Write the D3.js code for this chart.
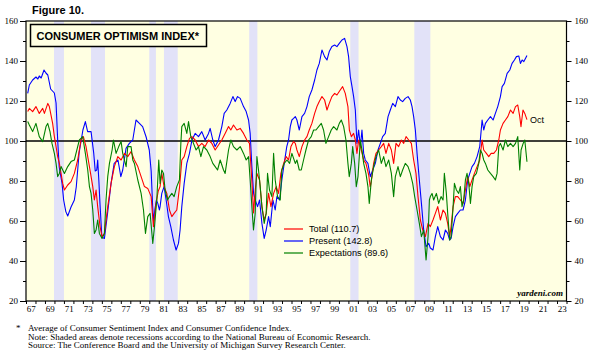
<!DOCTYPE html>
<html><head><meta charset="utf-8">
<script src="https://cdn.jsdelivr.net/npm/d3@7/dist/d3.min.js"></script>
<style>
html,body{margin:0;padding:0;background:#fff;}
svg{display:block;}
</style></head>
<body><svg id="c" width="598" height="356"></svg>
<script>
// ---------- DATA (decimal year, index value) ----------
const presentData = [
[1967.18,123.8],[1967.35,128],[1967.7,130.5],[1968.05,132],[1968.25,131],[1968.4,132.5],[1968.6,131.5],[1968.9,135.5],[1969.1,134],[1969.3,133],[1969.6,126],[1969.99,124],[1970.17,119],[1970.34,100.5],[1970.5,87],[1970.8,78.8],[1970.97,70.5],[1971.2,64.7],[1971.4,62.5],[1971.75,67],[1972.1,70.5],[1972.3,77],[1972.6,94],[1973.0,105.5],[1973.26,109.7],[1973.5,104.7],[1973.86,104.7],[1974.14,94],[1974.3,85],[1974.46,85.5],[1974.56,90.5],[1974.68,80.5],[1974.8,68.8],[1975.0,52],[1975.27,51.3],[1975.6,63.8],[1975.97,78.8],[1976.3,88.8],[1976.7,90.5],[1977.0,82.2],[1977.2,85.5],[1977.55,96.3],[1977.9,98.8],[1978.26,100.5],[1978.6,110.5],[1978.96,108.8],[1979.3,107.2],[1979.67,102],[1980.0,95.5],[1980.2,85],[1980.35,68],[1980.45,60],[1980.6,66],[1980.75,70.5],[1980.9,68.8],[1981.07,65.5],
[1981.14,67.2],[1981.32,73.8],[1981.56,77.2],[1981.78,70.5],[1982.02,62.2],[1982.27,57.2],[1982.55,50.5],[1982.83,45.5],[1983.08,48.8],[1983.25,55.5],[1983.43,67.2],[1983.68,78.8],[1983.96,88.8],[1984.24,93.8],[1984.5,100.5],[1984.84,103.8],[1985.19,102.2],[1985.54,104.7],[1985.89,100.5],[1986.25,103.8],[1986.42,106.3],[1986.7,100.5],[1986.95,97.2],[1987.3,100.5],[1987.65,107.2],[1987.9,113.8],[1988.18,115.5],[1988.53,118.8],[1988.82,122.2],[1989.06,119.7],[1989.31,122.2],[1989.59,121.3],[1989.94,117.2],[1990.22,114.7],[1990.47,110.5],[1990.64,103.8],[1990.82,87.2],[1991.0,73.8],[1991.17,70.5],[1991.42,67.2],[1991.63,70.5],[1991.88,58.8],[1992.12,51.3],[1992.33,55.5],[1992.58,62.2],[1992.76,57.2],[1993.04,70.5],[1993.28,65.5],[1993.46,72.2],[1993.74,70.5],[1993.98,80.5],[1994.23,88.8],[1994.5,97.2],[1994.69,100.5],[1994.87,107.2],[1995.04,110.5],[1995.22,111.3],
[1995.4,112.2],[1995.57,110.5],[1995.82,105.5],[1996.1,112.2],[1996.38,113.8],[1996.63,117.2],[1996.87,122.2],[1997.15,125.5],[1997.44,130.5],[1997.68,135.5],[1997.93,138.8],[1998.21,145.5],[1998.49,142.2],[1998.74,140.5],[1998.98,144.7],[1999.26,147.2],[1999.55,148],[1999.79,147.2],[2000.04,148.8],[2000.32,150.5],[2000.6,151.3],[2000.85,147.2],[2001.02,142.2],[2001.2,132.2],[2001.38,127.2],[2001.55,122.2],[2001.73,115.5],[2001.9,98.8],[2002.08,105.5],[2002.26,97.2],[2002.43,105.5],[2002.61,93.8],[2002.78,90.5],[2003.06,88.8],[2003.31,82.2],[2003.56,85.5],[2003.84,88.8],[2004.12,95.5],[2004.37,98.8],[2004.61,102.2],[2004.89,103.8],[2005.18,112.2],[2005.42,115.5],[2005.67,118.8],[2005.95,117.2],[2006.23,122.2],[2006.48,120.5],[2006.72,119.7],[2007.0,121.3],[2007.29,122.2],[2007.53,120.5],[2007.71,117.2],[2007.88,112.2],[2008.06,105.5],[2008.24,93.8],[2008.48,80.5],[2008.7,68.8],[2008.94,55.5],[2009.19,47.2],[2009.47,48.8],
[2009.64,46.5],[2009.92,45.5],[2010.17,52.2],[2010.42,57.2],[2010.7,52.2],[2010.98,50.5],[2011.23,55.5],[2011.47,53.8],[2011.68,50.5],[2011.83,51.3],[2012.04,57.2],[2012.28,62.2],[2012.53,63.8],[2012.81,65.5],[2013.09,65.5],[2013.34,70.5],[2013.58,80.5],[2013.8,83.8],[2014.04,87.2],[2014.29,88.8],[2014.57,92.2],[2014.85,97.2],[2015.1,110.5],[2015.27,105.5],[2015.45,108.8],[2015.7,110.5],[2015.98,112.2],[2016.26,110.5],[2016.5,113.8],[2016.75,117.2],[2017.03,122.2],[2017.21,127.2],[2017.45,128.8],[2017.74,133.8],[2018.02,135.5],[2018.26,138.8],[2018.51,140.5],[2018.72,142.2],[2018.97,142.5],[2019.14,138.8],[2019.32,140.5],[2019.5,139.7],[2019.67,141.3],[2019.83,142.8]
];
const totalData = [
[1967.18,114.7],[1967.35,116.3],[1967.7,114.7],[1968.05,117.2],[1968.4,113.8],[1968.76,116.3],[1968.94,113.8],[1969.3,118.8],[1969.46,117.2],[1969.81,108.8],[1969.99,102.2],[1970.17,97.2],[1970.34,92.2],[1970.52,88.8],[1970.87,78.8],[1971.05,75.5],[1971.4,78],[1971.75,79.7],[1972.1,83.8],[1972.45,90.5],[1972.8,100.5],[1973.05,102.2],[1973.33,97.2],[1973.69,87.2],[1974.04,77.2],[1974.21,70.5],[1974.39,75.5],[1974.56,67.2],[1974.81,57.2],[1975.02,52.2],[1975.27,53.8],[1975.62,67.2],[1975.97,78.8],[1976.32,87.2],[1976.68,92.2],[1977.03,90.5],[1977.38,93.8],[1977.73,92.2],[1978.08,94.7],[1978.43,90.5],[1978.79,87.2],[1979.14,82.2],[1979.49,77.2],[1979.84,76.3],[1980.2,72.2],[1980.44,57.2],[1980.72,68.8],[1980.95,75],
[1981.14,77.2],[1981.32,83.8],[1981.56,77.2],[1981.85,73.8],[1982.13,65.5],[1982.38,62.2],[1982.62,63.8],[1982.9,65.5],[1983.2,77.2],[1983.43,90.5],[1983.68,92.2],[1983.96,97.2],[1984.24,101.3],[1984.49,102.2],[1984.84,100.5],[1985.19,97.2],[1985.54,98.8],[1985.89,97.2],[1986.25,100.5],[1986.6,98.8],[1986.95,95.5],[1987.3,98],[1987.65,100.5],[1988.0,103.8],[1988.36,107.2],[1988.6,105.5],[1988.88,108],[1989.24,105.5],[1989.59,106.3],[1989.94,103.8],[1990.29,100.5],[1990.57,98.8],[1990.82,80],[1991.0,64],[1991.17,75],[1991.35,83.8],[1991.63,80.5],[1991.88,67.2],[1992.12,60.5],[1992.33,63.8],[1992.58,73.8],[1992.83,67.2],[1993.11,73.8],[1993.39,77.2],[1993.63,73.8],[1993.88,83.8],[1994.17,88.8],[1994.44,92.2],[1994.69,90.5],[1994.94,97.2],[1995.22,99.7],
[1995.4,98.8],[1995.57,95.5],[1995.82,92.2],[1996.1,97.2],[1996.38,100.5],[1996.63,102.2],[1996.87,105.5],[1997.15,108.8],[1997.44,113.8],[1997.68,117.2],[1997.93,119.7],[1998.21,122.2],[1998.49,120.5],[1998.74,115.5],[1998.98,118.8],[1999.26,122.2],[1999.55,123.8],[1999.79,123],[2000.14,125.5],[2000.39,127.2],[2000.67,123.8],[2000.95,117.2],[2001.1,105.5],[2001.31,102.2],[2001.55,103.8],[2001.73,100.5],[2001.9,93.8],[2002.08,100.5],[2002.36,95.5],[2002.61,90.5],[2002.85,88.8],[2003.14,83],[2003.3,77],[2003.42,80],[2003.66,88.8],[2003.91,93.8],[2004.19,95.5],[2004.47,97.2],[2004.72,98.8],[2004.96,93.8],[2005.25,98.8],[2005.53,95.5],[2005.77,88.8],[2006.02,98.8],[2006.3,97.2],[2006.58,100.5],[2006.83,98.8],[2007.08,102.2],[2007.36,100.5],[2007.64,98.8],[2007.88,90.5],[2008.13,83.8],[2008.34,72.2],[2008.59,60.5],[2008.84,55.5],[2009.12,52.2],[2009.4,58.8],
[2009.64,57.2],[2009.92,60.5],[2010.17,63.8],[2010.42,67.2],[2010.7,60.5],[2010.98,65.5],[2011.23,63.8],[2011.47,58.8],[2011.68,52.2],[2011.83,57.2],[2012.04,67.2],[2012.28,72.2],[2012.53,72.2],[2012.81,70.5],[2013.09,68.8],[2013.34,75.5],[2013.58,82.2],[2013.8,77.2],[2014.04,80.5],[2014.29,83.8],[2014.57,87.2],[2014.85,90.5],[2015.1,100.5],[2015.27,95.5],[2015.55,93.8],[2015.8,92.2],[2016.05,93.8],[2016.33,93.8],[2016.61,95.5],[2016.86,100.5],[2017.03,105.5],[2017.31,108.8],[2017.56,110.5],[2017.81,112.2],[2018.09,115.5],[2018.37,113.8],[2018.62,117.2],[2018.86,118],[2019.07,112.2],[2019.2,107.2],[2019.41,115.5],[2019.6,113.8],[2019.83,110.7]
];
const expectData = [
[1967.18,109.7],[1967.35,108],[1967.7,104.7],[1968.05,108.8],[1968.4,102.2],[1968.76,99.7],[1969.11,107.2],[1969.29,108.8],[1969.53,104.7],[1969.74,98.8],[1969.99,93.8],[1970.17,88.8],[1970.34,82.2],[1970.52,83.8],[1970.7,87.2],[1971.05,83.8],[1971.4,87.2],[1971.75,89.7],[1972.1,90.5],[1972.45,97.2],[1972.63,100.5],[1972.98,102.2],[1973.26,93.8],[1973.51,85.5],[1973.69,77.2],[1973.86,73.8],[1974.04,65.5],[1974.21,53.8],[1974.39,55.5],[1974.56,60.5],[1974.74,53.8],[1975.02,51.3],[1975.27,53.8],[1975.44,70.5],[1975.62,82.2],[1975.8,88.8],[1976.08,95.5],[1976.22,100.5],[1976.5,93.8],[1976.78,97.2],[1977.03,99.7],[1977.2,93.8],[1977.56,87.2],[1977.73,97.2],[1978.08,97.2],[1978.26,90.5],[1978.43,88.8],[1978.79,80.5],[1979.14,73.8],[1979.39,65.5],[1979.6,53.8],[1979.84,62.2],[1980.09,63.8],[1980.37,48.8],[1980.55,57.2],[1980.79,70.5],[1981.0,90.5],
[1981.14,78.8],[1981.32,85.5],[1981.5,83.8],[1981.67,75.5],[1981.92,70.5],[1982.13,72.2],[1982.38,73.8],[1982.62,72.2],[1982.9,77.2],[1983.18,80.5],[1983.33,98.8],[1983.43,107.2],[1983.68,108.8],[1983.96,103.8],[1984.14,109.7],[1984.38,102.2],[1984.66,98.8],[1984.94,95.5],[1985.19,97.2],[1985.44,92.2],[1985.72,97.2],[1986.07,95.5],[1986.42,92.2],[1986.7,88.8],[1986.95,87.2],[1987.2,85.5],[1987.48,90.5],[1987.83,85.5],[1988.0,83.8],[1988.36,95.5],[1988.6,100.5],[1988.88,97.2],[1989.24,95.5],[1989.59,97.2],[1989.94,93.8],[1990.22,90.5],[1990.47,92.2],[1990.64,80.5],[1990.82,67.2],[1990.99,55.5],[1991.17,63.8],[1991.35,92.2],[1991.52,85.5],[1991.7,77.2],[1991.88,67.2],[1992.12,58.8],[1992.33,63.8],[1992.47,83.8],[1992.68,75.5],[1992.93,72.2],[1993.11,93.8],[1993.28,80.5],[1993.53,72.2],[1993.81,70.5],[1993.98,85.5],[1994.23,88.8],[1994.52,90.5],[1994.8,88.8],[1995.04,93.8],
[1995.4,88.8],[1995.57,90.5],[1995.82,85.5],[1996.03,85.5],[1996.27,90.5],[1996.52,95.5],[1996.8,100.5],[1997.08,102.2],[1997.33,105.5],[1997.58,105.5],[1997.86,107.2],[1998.14,108.8],[1998.38,105.5],[1998.63,98.8],[1998.91,102.2],[1999.19,105.5],[1999.44,107.2],[1999.79,105.5],[2000.04,108.8],[2000.25,110.5],[2000.5,107.2],[2000.74,100.5],[2000.95,88.8],[2001.09,82.2],[2001.31,88.8],[2001.45,97.2],[2001.66,88.8],[2001.83,77.2],[2002.01,82.2],[2002.26,100.5],[2002.43,95.5],[2002.61,88.8],[2002.85,83.8],[2003.06,77.2],[2003.2,68.8],[2003.42,80.5],[2003.66,87.2],[2003.91,92.2],[2004.19,95.5],[2004.47,88.8],[2004.72,92.2],[2004.96,87.2],[2005.25,90.5],[2005.53,83.8],[2005.77,72.2],[2005.95,82.2],[2006.23,87.2],[2006.48,82.2],[2006.72,85.5],[2007.0,88.8],[2007.29,87.2],[2007.53,83.8],[2007.78,78.8],[2007.99,72.2],[2008.24,65.5],[2008.48,58.8],[2008.7,52.2],[2008.94,55.5],[2009.19,40.5],[2009.4,52.2],[2009.54,70.5],
[2009.64,72.2],[2009.82,73.8],[2009.99,70.5],[2010.28,73.8],[2010.52,68.8],[2010.77,72.2],[2010.98,70.5],[2011.12,83.8],[2011.33,73.8],[2011.47,63.8],[2011.68,50.5],[2011.83,52.2],[2012.04,67.2],[2012.18,78.8],[2012.39,75.5],[2012.63,73.8],[2012.81,77.2],[2012.98,67.2],[2013.16,70.5],[2013.34,80.5],[2013.51,83.8],[2013.69,78.8],[2013.87,68.8],[2014.04,77.2],[2014.22,82.2],[2014.5,83.8],[2014.75,88.8],[2014.92,95.5],[2015.1,93.8],[2015.27,90.5],[2015.45,88.8],[2015.7,85.5],[2015.98,83.8],[2016.26,82.2],[2016.5,80.5],[2016.68,83.8],[2016.86,97.2],[2017.03,98.8],[2017.31,95.5],[2017.56,100.5],[2017.81,97.2],[2018.09,98.8],[2018.37,97.2],[2018.62,98.8],[2018.86,102.2],[2019.07,85.5],[2019.21,95.5],[2019.43,98.8],[2019.6,100.5],[2019.83,89.6]
];
const recessions = [[1969.95,1971.0],[1973.85,1975.33],[1980.0,1980.7],[1981.55,1983.0],[1990.54,1991.4],[2001.2,2002.07],[2007.95,2009.64]];
const yMajorTicks = [20,40,60,80,100,120,140,160];
const yMinorTicks = [30,50,70,90,110,130,150];
const yearTicks = d3.range(1967, 2025);
const yearLabels = [1967,1969,1971,1973,1975,1977,1979,1981,1983,1985,1987,1989,1991,1993,1995,1997,1999,2001,2003,2005,2007,2009,2011,2013,2015,2017,2019,2021,2023];
const legendItems = [
  {name:"Total (110.7)", color:"#ff0000"},
  {name:"Present (142.8)", color:"#0000ff"},
  {name:"Expectations (89.6)", color:"#008000"}
];
const footnotes = [
  "Average of Consumer Sentiment Index and Consumer Confidence Index.",
  "Note: Shaded areas denote recessions according to the National Bureau of Economic Research.",
  "Source: The Conference Board and the University of Michigan Survey Research Center."
];

// ---------- LAYOUT ----------
const L = 26, R = 566.5, T = 21, B = 301;
const sans = "'Liberation Sans', Arial, sans-serif";
const serif = "'Liberation Serif', 'Times New Roman', serif";
const svg = d3.select("#c");
const x = d3.scaleLinear().domain([1967, 2024]).range([L, R]);
const y = d3.scaleLinear().domain([20, 160]).range([B, T]);

svg.append("defs").append("clipPath").attr("id","clip")
  .append("rect").attr("x",L).attr("y",T).attr("width",R-L).attr("height",B-T);

// background
svg.append("rect").attr("x",L).attr("y",T).attr("width",R-L).attr("height",B-T).attr("fill","#ffffe2");
// recessions
svg.append("g").selectAll("rect").data(recessions).join("rect")
  .attr("x", d=>x(d[0])).attr("width", d=>x(d[1])-x(d[0]))
  .attr("y", T).attr("height", B-T).attr("fill","#e2e2f8");

// reference line at 100
svg.append("line").attr("x1",L).attr("x2",R).attr("y1",y(100)).attr("y2",y(100))
  .attr("stroke","#000").attr("stroke-width",1.3);

// series
const line = d3.line().x(d=>x(d[0])).y(d=>y(d[1]));
const g = svg.append("g").attr("clip-path","url(#clip)");
[[presentData,"#0000ff"],[totalData,"#ff0000"],[expectData,"#008000"]].forEach(([data,col])=>{
  g.append("path").datum(data).attr("d",line).attr("fill","none")
   .attr("stroke",col).attr("stroke-width",1.1).attr("stroke-linejoin","round");
});

// frame
svg.append("rect").attr("x",L).attr("y",T).attr("width",R-L).attr("height",B-T)
  .attr("fill","none").attr("stroke","#000").attr("stroke-width",1.2);

function styleAxis(sel, font){
  sel.select(".domain").remove();
  sel.selectAll(".tick line").attr("stroke","#000");
  sel.selectAll("text").attr("font-family",font).attr("font-size",9).attr("fill","#000");
}
// left axis
svg.append("g").attr("transform",`translate(${L},0)`)
  .call(d3.axisLeft(y).tickValues(yMajorTicks).tickSize(6).tickPadding(2).tickFormat(d3.format("d")))
  .call(s=>styleAxis(s,serif));
svg.append("g").attr("transform",`translate(${L},0)`)
  .call(d3.axisLeft(y).tickValues(yMinorTicks).tickSize(3).tickFormat(""))
  .call(s=>styleAxis(s,serif));
// right axis
svg.append("g").attr("transform",`translate(${R},0)`)
  .call(d3.axisRight(y).tickValues(yMajorTicks).tickSize(5).tickPadding(3).tickFormat(d3.format("d")))
  .call(s=>styleAxis(s,serif));
svg.append("g").attr("transform",`translate(${R},0)`)
  .call(d3.axisRight(y).tickValues(yMinorTicks).tickSize(3).tickFormat(""))
  .call(s=>styleAxis(s,serif));
// bottom axis: year ticks and mid-year labels
svg.append("g").attr("transform",`translate(0,${B})`)
  .call(d3.axisBottom(x).tickValues(yearTicks).tickSize(3).tickFormat(""))
  .call(s=>styleAxis(s,serif));
svg.append("g").attr("transform",`translate(0,${B})`)
  .call(d3.axisBottom(x).tickValues(yearLabels.map(v=>v+0.5)).tickSize(0).tickPadding(5)
        .tickFormat(d=>String(Math.floor(d)%100).padStart(2,"0")))
  .call(s=>styleAxis(s,serif));

// title
svg.append("text").attr("x",32).attr("y",14).attr("font-family",sans).attr("font-weight","bold")
  .attr("font-size",11).text("Figure 10.");
svg.append("rect").attr("x",30.5).attr("y",24.5).attr("width",176).attr("height",22)
  .attr("fill","#ffffe2").attr("stroke","#000").attr("stroke-width",1.5);
svg.append("text").attr("x",36.5).attr("y",39.5).attr("font-family",sans).attr("font-weight","bold")
  .attr("font-size",11).text("CONSUMER OPTIMISM INDEX*");

// legend
const lg = svg.append("g").selectAll("g").data(legendItems).join("g")
  .attr("transform",(d,i)=>`translate(284,${229+i*12})`);
lg.append("line").attr("x1",0).attr("x2",19).attr("stroke",d=>d.color).attr("stroke-width",1.2);
lg.append("text").attr("x",25).attr("dy","0.35em").attr("font-family",sans).attr("font-size",9.2)
  .text(d=>d.name);

// Oct label at last total value
const last = totalData[totalData.length-1];
svg.append("text").attr("x",x(last[0])+3).attr("y",y(last[1])).attr("dy","0.35em")
  .attr("font-family",sans).attr("font-size",9).text("Oct");

// watermark
svg.append("text").attr("x",563).attr("y",296).attr("text-anchor","end")
  .attr("font-family",serif).attr("font-style","italic").attr("font-weight","bold")
  .attr("font-size",9).text("yardeni.com");

// footnotes
svg.append("text").attr("x",16).attr("y",331).attr("font-family",serif).attr("font-size",9).text("*");
svg.append("g").selectAll("text").data(footnotes).join("text")
  .attr("x",28).attr("y",(d,i)=>331+i*8.5).attr("font-family",serif).attr("font-size",9).text(d=>d);
</script></body></html>
